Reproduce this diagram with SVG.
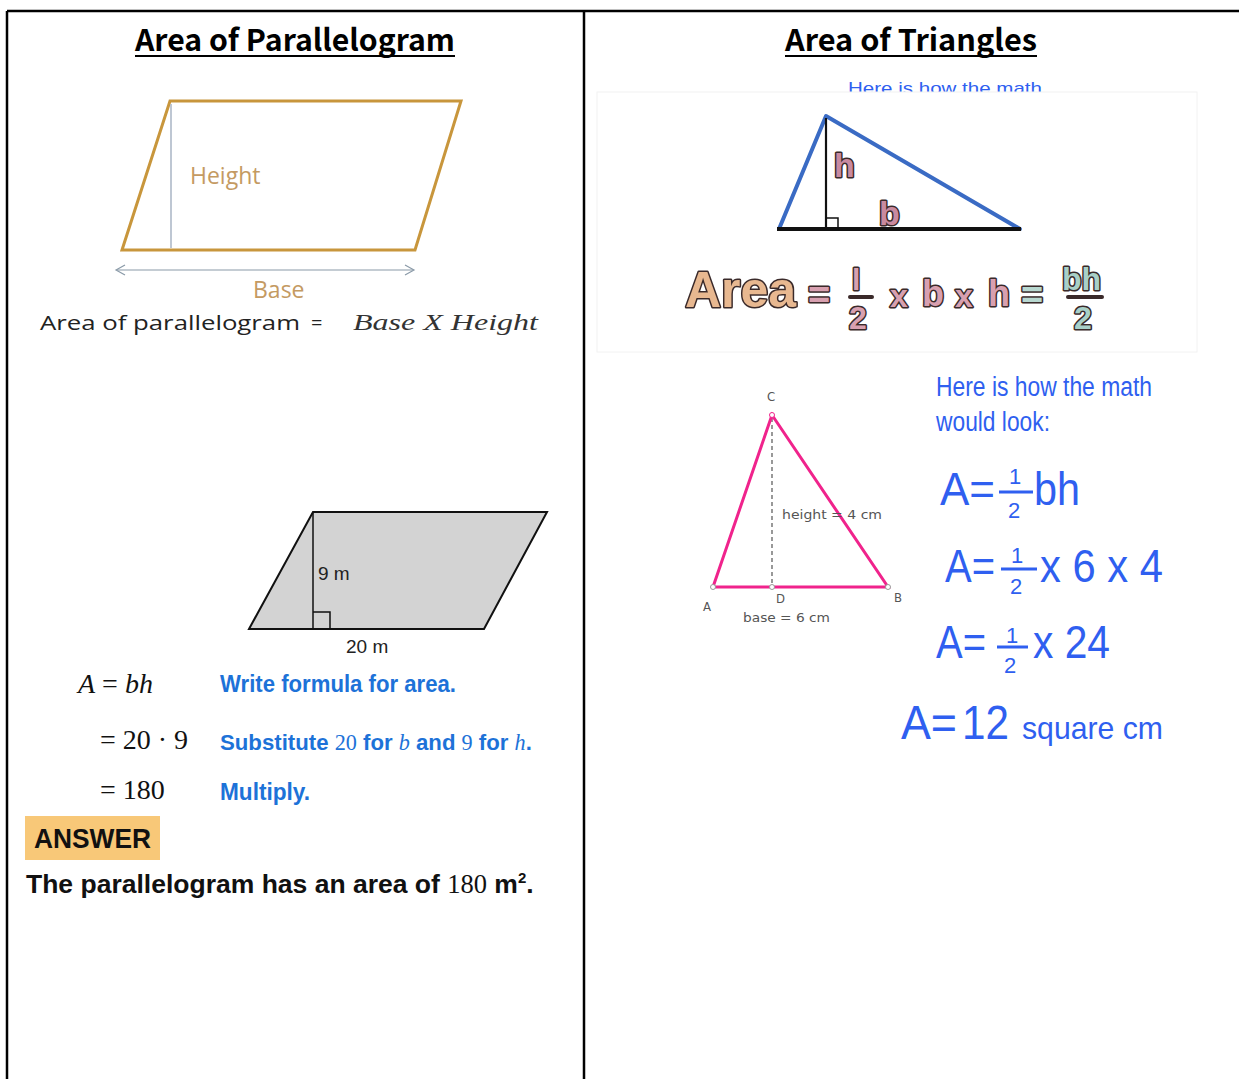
<svg xmlns="http://www.w3.org/2000/svg" width="1239" height="1079" viewBox="0 0 1239 1079">
<style>
.title{font-family:"Noto Sans CJK KR","Liberation Sans",sans-serif;font-weight:bold;font-size:30px;fill:#000}
.tan{font-family:"Open Sans","Liberation Sans",sans-serif;font-size:23px;fill:#c49a62}
.blk{font-family:"Open Sans","Liberation Sans",sans-serif;font-size:20px;fill:#222}
.serifi{font-family:"Liberation Serif",serif;font-style:italic}
.serif{font-family:"Liberation Serif",serif}
.bub{font-family:"Liberation Sans",sans-serif;font-weight:bold;stroke:#3a2a2a;stroke-width:3px;paint-order:stroke;stroke-linejoin:round}
.bf{font-family:"Liberation Sans",sans-serif;fill:#2f5ff0}
.bluestep{font-family:"Liberation Sans",sans-serif;font-weight:bold;font-size:23px;fill:#1d72d8}
.gray{font-family:"DejaVu Sans Condensed","DejaVu Sans",sans-serif;font-size:13px;fill:#555}
</style>
<rect width="1239" height="1079" fill="#fff"/>
<!-- table frame -->
<g id="table" stroke="#000" stroke-width="2.5" fill="none">
<line x1="7" y1="11" x2="1239" y2="11"/>
<line x1="7" y1="11" x2="7" y2="1079"/>
<line x1="584" y1="11" x2="584" y2="1079"/>
</g>
<g id="title-left">
<text class="title" x="135" y="51" textLength="320" lengthAdjust="spacingAndGlyphs">Area of Parallelogram</text>
<line x1="135" y1="56" x2="455" y2="56" stroke="#000" stroke-width="2"/>
</g>
<g id="title-right">
<text class="title" x="785" y="51" textLength="252" lengthAdjust="spacingAndGlyphs">Area of Triangles</text>
<line x1="785" y1="56" x2="1037" y2="56" stroke="#000" stroke-width="2"/>
</g>
<!-- upper-left parallelogram figure -->
<g id="parallelogram-figure">
<polygon points="122,250 170,101 461,101 415,250" fill="none" stroke="#c8963c" stroke-width="3"/>
<line x1="171" y1="104" x2="171" y2="248" stroke="#a8b4c4" stroke-width="1.5"/>
<text class="tan" x="190" y="184">Height</text>
<line x1="117" y1="270" x2="413" y2="270" stroke="#8a9aa8" stroke-width="1.2"/>
<polyline points="125,265 116,270 125,275" fill="none" stroke="#8a9aa8" stroke-width="1.2"/>
<polyline points="405,265 414,270 405,275" fill="none" stroke="#8a9aa8" stroke-width="1.2"/>
<text class="tan" x="253" y="298">Base</text>
<text class="blk" x="40" y="330" textLength="260" lengthAdjust="spacingAndGlyphs">Area of parallelogram</text>
<text class="blk" x="311" y="330">=</text>
<text class="serifi" x="353" y="330" font-size="24" fill="#333" textLength="185" lengthAdjust="spacingAndGlyphs">Base X Height</text>
</g>
<!-- upper-right triangle image -->
<g id="triangle-figure">
<text class="bf" x="848" y="94" font-size="17" textLength="194" lengthAdjust="spacingAndGlyphs">Here is how the math</text>
<rect x="597" y="92" width="600" height="260" fill="#fff" stroke="#f2f2f2" stroke-width="1"/>
<polygon points="826,116 779,229 1020,229" fill="none" stroke="#3a6bc4" stroke-width="4" stroke-linejoin="round"/>
<line x1="777" y1="229" x2="1021" y2="229" stroke="#111" stroke-width="4"/>
<line x1="826" y1="118" x2="826" y2="229" stroke="#111" stroke-width="2.2"/>
<polyline points="826,218 838,218 838,229" fill="none" stroke="#111" stroke-width="1.5"/>
<text class="bub" x="834" y="177" font-size="34" fill="#c98aa0">h</text>
<text class="bub" x="879" y="225" font-size="34" fill="#c98aa0">b</text>
<text class="bub" x="685" y="307" font-size="50" fill="#e8b890">Area</text>
<text class="bub" x="808" y="308" font-size="38" fill="#d8a0b0">=</text>
<text class="bub" x="852" y="290" font-size="30" fill="#d8a0b0">l</text>
<line x1="850" y1="297" x2="872" y2="297" stroke="#3a2a2a" stroke-width="4" stroke-linecap="round"/>
<text class="bub" x="849" y="329" font-size="32" fill="#d8a0b0">2</text>
<text class="bub" x="890" y="307" font-size="32" fill="#d8a0b0">x</text>
<text class="bub" x="922" y="306" font-size="36" fill="#d8a0b0">b</text>
<text class="bub" x="955" y="307" font-size="32" fill="#d8a0b0">x</text>
<text class="bub" x="988" y="306" font-size="36" fill="#d8a0b0">h</text>
<text class="bub" x="1021" y="308" font-size="38" fill="#b8d8d0">=</text>
<text class="bub" x="1062" y="290" font-size="32" fill="#a8d0c8">bh</text>
<line x1="1068" y1="297" x2="1102" y2="297" stroke="#3a2a2a" stroke-width="4" stroke-linecap="round"/>
<text class="bub" x="1074" y="329" font-size="32" fill="#a8d0c8">2</text>
</g>
<!-- pink triangle -->
<g id="pink-triangle">
<line x1="772" y1="418" x2="772" y2="587" stroke="#555" stroke-width="1.2" stroke-dasharray="4,3"/>
<polygon points="713,587 888,587 772,415" fill="none" stroke="#f0238c" stroke-width="3"/>
<circle cx="713" cy="587" r="2.5" fill="#fff" stroke="#999"/>
<circle cx="888" cy="587" r="2.5" fill="#fff" stroke="#999"/>
<circle cx="772" cy="415" r="2.5" fill="#fff" stroke="#f0238c"/>
<circle cx="772" cy="587" r="2.5" fill="#fff" stroke="#999"/>
<text class="gray" x="767" y="401">C</text>
<text class="gray" x="703" y="611">A</text>
<text class="gray" x="894" y="602">B</text>
<text class="gray" x="776" y="603">D</text>
<text class="gray" x="782" y="519" textLength="100" lengthAdjust="spacingAndGlyphs">height = 4 cm</text>
<text class="gray" x="743" y="622" textLength="87" lengthAdjust="spacingAndGlyphs">base = 6 cm</text>
</g>
<!-- blue working -->
<g id="triangle-working">
<text class="bf" x="936" y="396" font-size="27" textLength="216" lengthAdjust="spacingAndGlyphs">Here is how the math</text>
<text class="bf" x="936" y="431" font-size="27" textLength="114" lengthAdjust="spacingAndGlyphs">would look:</text>
<text class="bf" x="940" y="505" font-size="46" textLength="55" lengthAdjust="spacingAndGlyphs">A=</text>
<text class="bf" x="1009" y="484" font-size="22">1</text>
<line x1="999" y1="492" x2="1033" y2="492" stroke="#2f5ff0" stroke-width="3"/>
<text class="bf" x="1008" y="518" font-size="22">2</text>
<text class="bf" x="1034" y="505" font-size="46" textLength="46" lengthAdjust="spacingAndGlyphs">bh</text>
<text class="bf" x="945" y="582" font-size="46" textLength="50" lengthAdjust="spacingAndGlyphs">A=</text>
<text class="bf" x="1011" y="563" font-size="22">1</text>
<line x1="1001" y1="569" x2="1037" y2="569" stroke="#2f5ff0" stroke-width="3"/>
<text class="bf" x="1010" y="594" font-size="22">2</text>
<text class="bf" x="1040" y="582" font-size="46" textLength="123" lengthAdjust="spacingAndGlyphs">x 6 x 4</text>
<text class="bf" x="936" y="658" font-size="46" textLength="50" lengthAdjust="spacingAndGlyphs">A=</text>
<text class="bf" x="1006" y="643" font-size="22">1</text>
<line x1="997" y1="647" x2="1028" y2="647" stroke="#2f5ff0" stroke-width="3"/>
<text class="bf" x="1004" y="673" font-size="22">2</text>
<text class="bf" x="1033" y="658" font-size="46" textLength="77" lengthAdjust="spacingAndGlyphs">x 24</text>
<text class="bf" x="901" y="739" font-size="48" textLength="56" lengthAdjust="spacingAndGlyphs">A=</text>
<text class="bf" x="962" y="739" font-size="48" textLength="47" lengthAdjust="spacingAndGlyphs">12</text>
<text class="bf" x="1022" y="739" font-size="32" textLength="141" lengthAdjust="spacingAndGlyphs">square cm</text>
</g>
<!-- lower-left gray parallelogram -->
<g id="gray-parallelogram">
<polygon points="249,629 313,512 547,512 484,629" fill="#d3d3d3" stroke="#111" stroke-width="2"/>
<line x1="313" y1="512" x2="313" y2="629" stroke="#111" stroke-width="1.5"/>
<polyline points="313,612 330,612 330,629" fill="none" stroke="#111" stroke-width="1.5"/>
<text x="318" y="580" font-family="Liberation Sans,sans-serif" font-size="19" fill="#222">9 m</text>
<text x="346" y="653" font-family="Liberation Sans,sans-serif" font-size="19" fill="#222">20 m</text>
</g>
<!-- worked solution -->
<g id="solution">
<text x="78" y="693" font-size="28" fill="#111" class="serif"><tspan font-style="italic">A</tspan> = <tspan font-style="italic">bh</tspan></text>
<text x="100" y="749" font-size="28" fill="#111" class="serif">= 20 · 9</text>
<text x="100" y="799" font-size="28" fill="#111" class="serif">= 180</text>
<text class="bluestep" x="220" y="692" textLength="236" lengthAdjust="spacingAndGlyphs">Write formula for area.</text>
<text class="bluestep" x="220" y="750" style="font-size:22.2px">Substitute <tspan class="serif" font-weight="normal">20</tspan> for <tspan class="serifi" font-weight="normal">b</tspan> and <tspan class="serif" font-weight="normal">9</tspan> for <tspan class="serifi" font-weight="normal">h</tspan>.</text>
<text class="bluestep" x="220" y="800" textLength="90" lengthAdjust="spacingAndGlyphs">Multiply.</text>
<rect x="25" y="816" width="135" height="44" fill="#f8c878"/>
<text x="34" y="848" font-family="Liberation Sans,sans-serif" font-weight="bold" font-size="28" fill="#111" textLength="117" lengthAdjust="spacingAndGlyphs">ANSWER</text>
<text x="26" y="893" font-family="Liberation Sans,sans-serif" font-weight="bold" font-size="26.5" fill="#111">The parallelogram has an area of <tspan class="serif" font-weight="normal">180</tspan> m<tspan font-size="15" dy="-10">2</tspan><tspan dy="10">.</tspan></text>
</g>
</svg>
